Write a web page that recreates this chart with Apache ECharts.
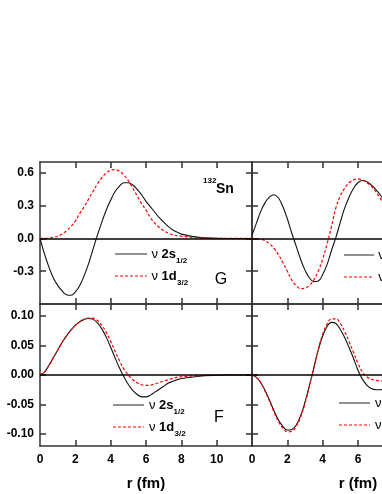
<!DOCTYPE html>
<html>
<head>
<meta charset="utf-8">
<script src="https://cdn.jsdelivr.net/npm/echarts@6/dist/echarts.min.js"></script>
<style>
html,body{margin:0;padding:0;background:#fff;}
#chart{width:382px;height:494px;}
</style>
</head>
<body>
<div id="chart"></div>
<script>
// radial grid (fm)
const r = [0,0.25,0.5,0.75,1,1.25,1.5,1.75,2,2.25,2.5,2.75,3,3.25,3.5,3.75,4,4.25,4.5,4.75,5,5.25,5.5,5.75,6,6.25,6.5,6.75,7,7.25,7.5,7.75,8,9,10,11,12];

// Top-left (G, 132Sn)
const G_left_2s = [0,-0.14,-0.26,-0.36,-0.43,-0.48,-0.515,-0.52,-0.49,-0.43,-0.34,-0.23,-0.10,0.03,0.15,0.26,0.35,0.43,0.48,0.51,0.51,0.49,0.45,0.40,0.34,0.29,0.24,0.19,0.15,0.11,0.08,0.06,0.04,0.01,0.002,0,0];
const G_left_1d = [0,0,0.003,0.01,0.02,0.04,0.07,0.11,0.16,0.23,0.29,0.36,0.43,0.50,0.555,0.60,0.625,0.63,0.615,0.58,0.53,0.46,0.39,0.32,0.26,0.19,0.14,0.10,0.07,0.05,0.035,0.025,0.02,0.005,0.001,0,0];
// Bottom-left (F)
const F_left_2s = [0,0.005,0.016,0.029,0.042,0.055,0.066,0.076,0.084,0.090,0.094,0.0955,0.094,0.088,0.078,0.064,0.047,0.029,0.012,-0.003,-0.016,-0.026,-0.033,-0.037,-0.037,-0.034,-0.029,-0.024,-0.019,-0.014,-0.011,-0.008,-0.006,-0.002,-0.0005,0,0];
const F_left_1d = [0,0.005,0.016,0.029,0.042,0.055,0.066,0.076,0.084,0.090,0.094,0.096,0.096,0.092,0.084,0.072,0.057,0.040,0.024,0.010,0.000,-0.008,-0.013,-0.0165,-0.0175,-0.017,-0.015,-0.013,-0.010,-0.008,-0.006,-0.004,-0.003,-0.001,0,0,0];
// Top-right (G)
const G_right_2s = [0.03,0.14,0.25,0.33,0.38,0.40,0.37,0.29,0.18,0.05,-0.07,-0.19,-0.29,-0.36,-0.395,-0.39,-0.33,-0.24,-0.11,0.01,0.15,0.28,0.38,0.46,0.51,0.53,0.52,0.49,0.45,0.40,0.34,0.28,0.22,0.07,0.02,0.005,0];
const G_right_1d = [0,-0.001,-0.005,-0.02,-0.05,-0.09,-0.15,-0.22,-0.30,-0.38,-0.43,-0.46,-0.455,-0.43,-0.38,-0.30,-0.19,-0.05,0.11,0.28,0.39,0.46,0.51,0.535,0.545,0.535,0.51,0.48,0.43,0.37,0.31,0.25,0.19,0.05,0.01,0,0];
// Bottom-right (F)
const F_right_2s = [0,-0.004,-0.013,-0.027,-0.043,-0.061,-0.076,-0.087,-0.093,-0.092,-0.085,-0.069,-0.046,-0.018,0.012,0.042,0.066,0.082,0.089,0.087,0.077,0.063,0.046,0.028,0.008,-0.007,-0.017,-0.023,-0.025,-0.025,-0.024,-0.022,-0.019,-0.009,-0.004,-0.001,0];
const F_right_1d = [0,-0.004,-0.013,-0.028,-0.045,-0.063,-0.079,-0.090,-0.096,-0.095,-0.087,-0.071,-0.048,-0.019,0.012,0.043,0.069,0.086,0.095,0.095,0.087,0.073,0.056,0.038,0.020,0.005,-0.003,-0.007,-0.009,-0.010,-0.010,-0.009,-0.008,-0.004,-0.001,0,0];

// ticks / labels
const xTicks = [2,4,6,8,10];
const xLabels = [0,2,4,6,8,10];
const gTicks = [-0.3,0,0.3,0.6];
const fTicks = [-0.10,-0.05,0,0.05,0.10];
const gRange = [-0.6, 0.7];
const fRange = [-0.12, 0.12];
const xRangeLeft = [0, 12];
const xRangeRight = [0, 7.36]; // right panels are cut by the picture edge

const FONT = '"Liberation Sans", Arial, sans-serif';
const AX = '#333';

const grids = [
  {left:40, top:162, width:212, height:142},
  {left:40, top:304, width:212, height:142},
  {left:252, top:162, width:130, height:142},
  {left:252, top:304, width:130, height:142}
];

function xAx(gi, pos, range, labels, name){
  return {
    type:'value', gridIndex:gi, position:pos, min:range[0], max:range[1],
    axisLine:{show:true, onZero:false, lineStyle:{color:AX, width:1.5}},
    axisTick:{show:true, inside:true, length:6, customValues:xTicks.filter(v=>v<range[1]), lineStyle:{color:AX, width:1.5}},
    axisLabel:{show:labels, customValues:xLabels.filter(v=>v<range[1]), margin:8, fontSize:12, fontWeight:'bold', color:'#000', fontFamily:FONT},
    splitLine:{show:false},
    name: name ? 'r (fm)' : '', nameLocation:'middle', nameGap:30,
    nameTextStyle:{fontSize:15, fontWeight:'bold', color:'#000', fontFamily:FONT, padding: name === 'right' ? [0,0,0,212-130] : 0}
  };
}
function yAx(gi, pos, range, ticks, labels, dec, show){
  return {
    type:'value', gridIndex:gi, position:pos, min:range[0], max:range[1], show: show !== false,
    axisLine:{show:true, onZero:false, lineStyle:{color:AX, width:1.5}},
    axisTick:{show:true, inside:true, length:6, customValues:ticks, lineStyle:{color:AX, width:1.5}},
    axisLabel:{show:labels, customValues:ticks, margin:6, fontSize:12, fontWeight:'bold', color:'#000', fontFamily:FONT,
      formatter:v=>Number(v).toFixed(dec)},
    splitLine:{show:false}
  };
}

const xAxis = [
  xAx(0,'bottom',xRangeLeft,false,false), xAx(0,'top',xRangeLeft,false,false),
  xAx(1,'bottom',xRangeLeft,true,'left'),  xAx(1,'top',xRangeLeft,false,false),
  xAx(2,'bottom',xRangeRight,false,false), xAx(2,'top',xRangeRight,false,false),
  xAx(3,'bottom',xRangeRight,true,'right'),  xAx(3,'top',xRangeRight,false,false)
];
const yAxis = [
  yAx(0,'left',gRange,gTicks,true,1), yAx(0,'right',gRange,gTicks,false,1),
  yAx(1,'left',fRange,fTicks,true,2), yAx(1,'right',fRange,fTicks,false,2),
  yAx(2,'left',gRange,gTicks,false,1), yAx(2,'right',gRange,gTicks,false,1,false),
  yAx(3,'left',fRange,fTicks,false,2), yAx(3,'right',fRange,fTicks,false,2,false)
];

const zeroLine = {silent:true, symbol:'none', label:{show:false},
  lineStyle:{color:'#000', type:'solid', width:1.5}, data:[{yAxis:0}]};

function ser(arr, gi, red){
  return {
    type:'line', xAxisIndex:gi*2, yAxisIndex:gi*2, showSymbol:false, smooth:0.4,
    data: r.map((x,i)=>[x, arr[i]]),
    lineStyle: red ? {color:'#ff0000', width:1.2, type:[3,2]} : {color:'#111', width:1.1},
    itemStyle:{color: red ? '#ff0000' : '#111'},
    markLine: red ? undefined : zeroLine,
    animation:false
  };
}

const series = [
  ser(G_left_2s,0,false), ser(G_left_1d,0,true),
  ser(F_left_2s,1,false), ser(F_left_1d,1,true),
  ser(G_right_2s,2,false), ser(G_right_1d,2,true),
  ser(F_right_2s,3,false), ser(F_right_1d,3,true)
];

function txt(x,y,text,font,align){
  return {type:'text', x:x, y:y, z:100, style:{text:text, font:font, fill:'#000', align:align||'left', verticalAlign:'middle'}};
}
function legend(lx1,lx2,y1,y2,tx){
  const out = [];
  out.push({type:'line', z:100, shape:{x1:lx1,y1:y1,x2:lx2,y2:y1}, style:{stroke:'#222', lineWidth:1}});
  out.push({type:'line', z:100, shape:{x1:lx1,y1:y2,x2:lx2,y2:y2}, style:{stroke:'#ff0000', lineWidth:1.2, lineDash:[3,2]}});
  out.push(txt(tx,y1,'ν','13px '+FONT));
  out.push(txt(tx+10,y1,'2s','bold 13px '+FONT));
  out.push(txt(tx+24.5,y1+7,'1/2','bold 8px '+FONT));
  out.push(txt(tx,y2,'ν','13px '+FONT));
  out.push(txt(tx+10,y2,'1d','bold 13px '+FONT));
  out.push(txt(tx+25.5,y2+7,'3/2','bold 8px '+FONT));
  return out;
}

const graphic = [].concat(
  legend(115,147,254,276,151.5),
  legend(113,144,405,427,149),
  legend(344,374,255,277,378.3),
  legend(339,370,403,425,375),
  [
    txt(221,280,'G','16px '+FONT,'center'),
    txt(219,418,'F','16px '+FONT,'center'),
    txt(203,181,'132','bold 8px '+FONT),
    txt(216,189,'Sn','bold 14px '+FONT)
  ]
);

const chart = echarts.init(document.getElementById('chart'), null, {renderer:'canvas'});
chart.setOption({
  animation:false,
  backgroundColor:'#fff',
  grid: grids,
  xAxis: xAxis,
  yAxis: yAxis,
  series: series,
  graphic: graphic
});
</script>
</body>
</html>
